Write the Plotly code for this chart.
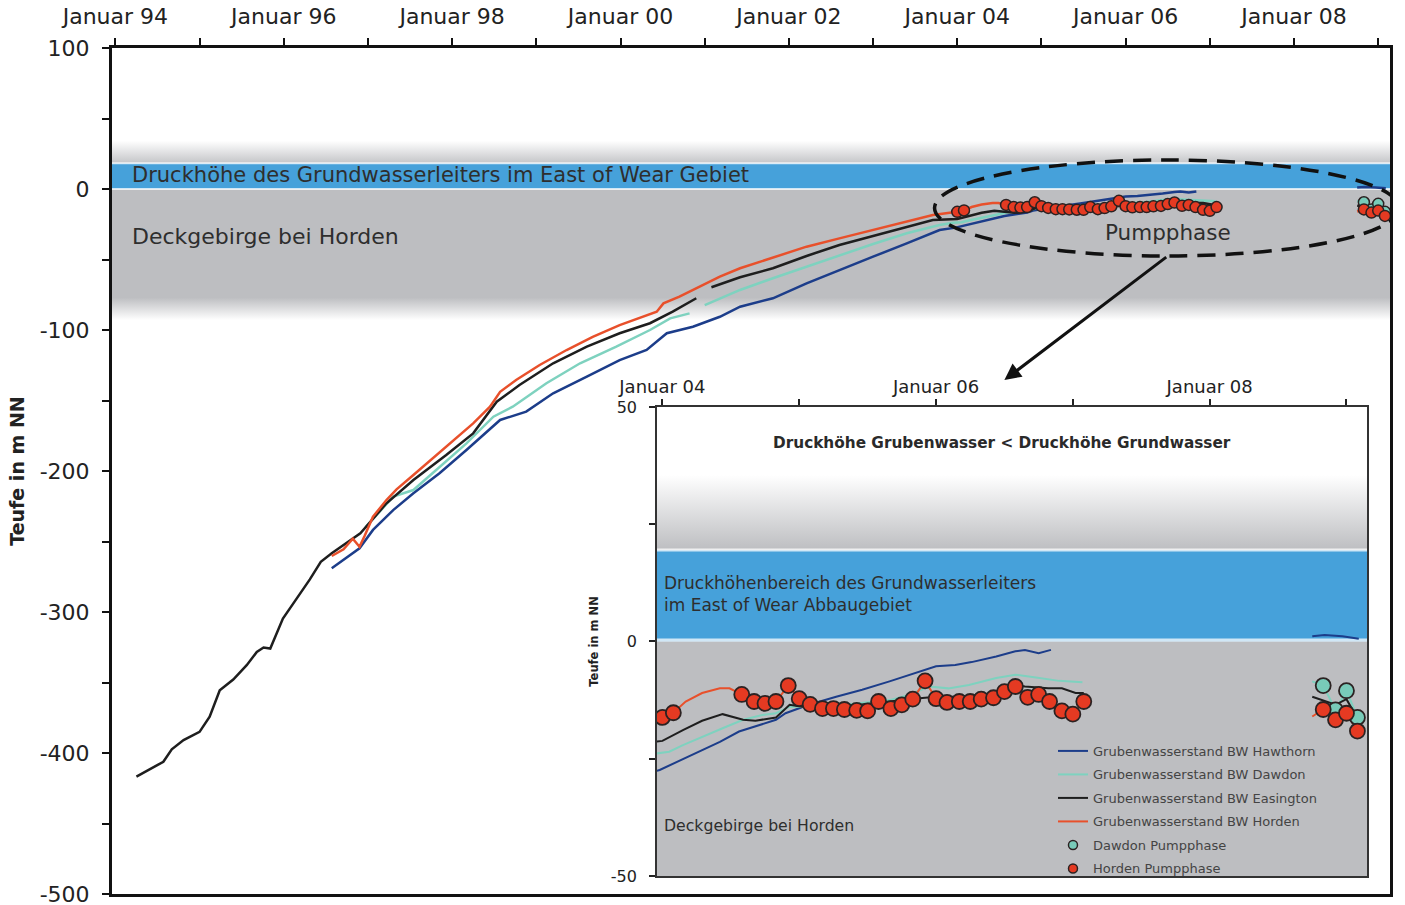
import plotly.graph_objects as go

# ------------------------------------------------------------------
# Data (decimal years, water level in m NN); None = gap in record
# ------------------------------------------------------------------
hawthorn_t = [1996.57, 1996.90, 1997.06, 1997.30, 1997.54, 1997.85, 1998.17, 1998.57, 1998.88,
              1999.20, 1999.60, 1999.99, 2000.31, 2000.55, 2000.86, 2001.18, 2001.42, 2001.81,
              2002.21, 2002.60, 2003.00, 2003.40, 2003.79, 2003.98, 2004.12, 2004.27, 2004.42,
              2004.56, 2004.71, 2004.83, 2004.90, 2005.07, 2005.27, 2005.46, 2005.66, 2005.85,
              2006.00, 2006.14, 2006.26, 2006.44, 2006.58, 2006.65, 2006.75, 2006.84, None,
              2008.75, 2008.84, 2008.97, 2009.09]
hawthorn_d = [-269.0, -254.8, -241.8, -227.7, -215.8, -201.6, -185.1, -163.8, -157.9,
              -144.9, -133.1, -121.3, -114.2, -102.3, -97.7, -90.6, -83.5, -77.5,
              -66.9, -57.4, -48.0, -38.5, -29.1, -27.4, -25.5, -23.5, -21.4,
              -19.2, -17.8, -16.7, -15.3, -13.5, -11.8, -10.3, -8.5, -6.8,
              -5.3, -5.0, -4.4, -3.2, -2.1, -1.8, -2.5, -1.8, None,
              1.1, 1.4, 1.1, 0.6]

dawdon_t = [1996.97, 1997.30, 1997.54, 1997.85, 1998.17, 1998.49, 1998.72, 1999.12, 1999.52,
            1999.95, 2000.35, 2000.59, 2000.82, None, 2001.00, 2001.42, 2001.81, 2002.21,
            2002.60, 2003.00, 2003.40, 2003.79, 2003.95, 2004.05, 2004.15, 2004.29, 2004.44,
            2004.59, 2004.73, 2004.83, 2004.93, 2005.02, 2005.20, 2005.40, 2005.66, 2005.80,
            2005.95, 2006.09, 2006.24, 2006.44, 2006.58, 2006.73, 2006.90, 2007.07, None,
            2008.75, 2008.83, 2008.92, 2009.00, 2009.08]
dawdon_d = [-240.0, -218.2, -213.5, -197.0, -180.4, -161.5, -154.4, -137.8, -123.6,
            -111.8, -100.0, -91.7, -88.2, None, -82.3, -71.6, -63.3, -55.1,
            -46.8, -39.0, -31.4, -25.5, -23.9, -23.5, -22.1, -20.3, -18.5,
            -16.7, -15.7, -15.3, -13.9, -13.9, -13.8, -13.3, -12.5, -11.4,
            -9.6, -10.0, -9.3, -7.8, -7.1, -7.7, -8.4, -8.7, None,
            -8.5, -9.4, -14.6, -10.5, -16.2]

easington_t = [1994.25, 1994.41, 1994.57, 1994.67, 1994.81, 1995.00, 1995.12, 1995.24, 1995.40,
               1995.56, 1995.68, 1995.76, 1995.84, 1995.99, 1996.15, 1996.31, 1996.44, 1996.57,
               1996.91, 1997.22, 1997.54, 1997.93, 1998.25, 1998.53, 1998.80, 1999.20, 1999.60,
               1999.99, 2000.35, 2000.62, 2000.90, None, 2001.08, 2001.42, 2001.81, 2002.21,
               2002.60, 2003.00, 2003.40, 2003.71, 2004.00, 2004.15, 2004.29, 2004.44, 2004.59,
               2004.68, 2004.83, 2004.93, 2005.02, 2005.20, 2005.40, 2005.60, 2005.80, 2006.00,
               2006.19, 2006.34, 2006.48, 2006.58, 2006.65, 2006.82, 2006.92, 2007.02, 2007.08,
               None, 2008.75, 2008.92, 2009.00, 2009.08]
easington_d = [-416.8, -411.6, -406.2, -397.4, -390.8, -385.0, -374.3, -355.5, -347.9,
               -337.7, -328.3, -325.2, -325.9, -304.6, -290.4, -276.9, -264.4, -258.4,
               -244.2, -222.9, -206.4, -188.7, -173.3, -150.9, -139.0, -123.6, -111.8,
               -102.3, -95.2, -87.0, -77.5, None, -69.7, -62.6, -56.2, -47.5,
               -39.7, -33.3, -26.7, -22.0, -21.2, -18.9, -16.9, -15.5, -16.7,
               -16.9, -16.2, -13.5, -13.9, -13.8, -13.6, -13.0, -12.3, -11.8,
               -11.8, -11.3, -10.7, -9.3, -9.6, -10.0, -10.0, -11.0, -11.0,
               None, -11.8, -13.5, -12.3, -16.4]

horden_t = [1996.57, 1996.71, 1996.82, 1996.90, 1996.96, 1997.06, 1997.22, 1997.34, 1997.54,
            1997.77, 1998.01, 1998.25, 1998.45, 1998.57, 1998.76, 1999.04, 1999.36, 1999.67,
            1999.99, 2000.27, 2000.43, 2000.51, 2000.70, 2000.94, 2001.18, 2001.42, 2001.81,
            2002.21, 2002.60, 2003.00, 2003.40, 2003.71, 2004.00, 2004.08, 2004.17, 2004.29,
            2004.42, 2004.49,
            2004.58, 2004.67, 2004.75, 2004.83, 2004.92, 2005.00, 2005.08, 2005.17, 2005.25,
            2005.33, 2005.42, 2005.50, 2005.58, 2005.67, 2005.75, 2005.83, 2005.92, 2006.00,
            2006.08, 2006.17, 2006.25, 2006.33, 2006.42, 2006.50, 2006.58, 2006.67, 2006.75,
            2006.83, 2006.92, 2007.00, 2007.08, None,
            2008.75, 2008.83, 2008.92, 2009.00, 2009.08]
horden_d = [-260.3, -255.5, -248.0, -253.7, -246.1, -232.4, -220.6, -213.0, -202.8,
            -191.0, -179.2, -166.2, -154.4, -143.8, -135.5, -124.8, -114.2, -104.8,
            -96.5, -90.6, -87.0, -81.1, -76.4, -69.3, -62.2, -56.2, -48.4,
            -40.9, -35.0, -29.1, -23.2, -18.4, -16.2, -15.2, -12.8, -11.0,
            -10.0, -10.0,
            -11.3, -12.8, -13.2, -12.8, -9.4, -12.2, -13.4, -14.3, -14.3,
            -14.5, -14.7, -14.8, -12.8, -14.3, -13.5, -12.3, -8.4, -12.2,
            -13.0, -12.8, -12.8, -12.3, -12.0, -10.7, -9.6, -11.9, -11.3,
            -12.8, -14.8, -15.5, -12.8, None,
            -16.0, -14.5, -16.7, -15.3, -19.1]

# Pumping phases (markers)
horden_pump_t = [2004.00, 2004.08,
                 2004.58, 2004.67, 2004.75, 2004.83, 2004.92, 2005.00, 2005.08, 2005.17, 2005.25,
                 2005.33, 2005.42, 2005.50, 2005.58, 2005.67, 2005.75, 2005.83, 2005.92, 2006.00,
                 2006.08, 2006.17, 2006.25, 2006.33, 2006.42, 2006.50, 2006.58, 2006.67, 2006.75,
                 2006.83, 2006.92, 2007.00, 2007.08,
                 2008.83, 2008.92, 2009.00, 2009.08]
horden_pump_d = [-16.2, -15.2,
                 -11.3, -12.8, -13.2, -12.8, -9.4, -12.2, -13.4, -14.3, -14.3,
                 -14.5, -14.7, -14.8, -12.8, -14.3, -13.5, -12.3, -8.4, -12.2,
                 -13.0, -12.8, -12.8, -12.3, -12.0, -10.7, -9.6, -11.9, -11.3,
                 -12.8, -14.8, -15.5, -12.8,
                 -14.5, -16.7, -15.3, -19.1]
dawdon_pump_t = [2008.83, 2008.92, 2009.00, 2009.08]
dawdon_pump_d = [-9.4, -14.6, -10.5, -16.2]

# Background zones (m NN)
aquifer_top_main = 18.2     # top of groundwater head band (main chart)
aquifer_top_inset = 19.5    # top of groundwater head band (inset)
cover_bottom = -77.0        # lower limit of grey "Deckgebirge" band

# Axes
main_x_range = [1993.96, 2009.14]
main_y_range = [-500, 100]
inset_x_range = [2003.96, 2009.15]
inset_y_range = [-50, 50]
main_tick_years = [1994, 1996, 1998, 2000, 2002, 2004, 2006, 2008]
main_tick_text = ["Januar 94", "Januar 96", "Januar 98", "Januar 00",
                  "Januar 02", "Januar 04", "Januar 06", "Januar 08"]
main_y_ticks = [-500, -400, -300, -200, -100, 0, 100]
main_y_text = ["-500", "-400", "-300", "-200", "-100", "0", "100"]
inset_tick_years = [2004, 2006, 2008]
inset_tick_text = ["Januar 04", "Januar 06", "Januar 08"]
inset_y_ticks = [-50, 0, 50]
inset_y_text = ["-50", "0", "50"]

# ------------------------------------------------------------------
FONT = "DejaVu Sans"
GRAY = "#BDBEC1"
BLUE = "#46A1DA"
C_HAW = "#1C3D8A"
C_DAW = "#7ED2BF"
C_EAS = "#1E1E1E"
C_HOR = "#E8502B"
C_PUMP_RED = "#E53A22"
C_PUMP_TEAL = "#78CBB9"
TXT = "#2E2E2E"

fig = go.Figure()


def band(xr, y0, y1, xa, ya, color=None, grad=None):
    tr = go.Scatter(x=[xr[0], xr[1], xr[1], xr[0], xr[0]], y=[y0, y0, y1, y1, y0],
                    mode="lines", line=dict(width=0), fill="toself",
                    hoverinfo="skip", showlegend=False, xaxis=xa, yaxis=ya)
    if grad is not None:
        tr.update(fillgradient=dict(type="vertical",
                                    colorscale=[[0, grad[0]], [1, grad[1]]],
                                    start=y0, stop=y1))
    else:
        tr.update(fillcolor=color)
    fig.add_trace(tr)


def hline(xr, y, xa, ya, color="rgba(255,255,255,0.75)", width=2):
    fig.add_trace(go.Scatter(x=[xr[0], xr[1]], y=[y, y], mode="lines",
                             line=dict(color=color, width=width), hoverinfo="skip",
                             showlegend=False, xaxis=xa, yaxis=ya))


# ---- main chart background bands ----
band(main_x_range, aquifer_top_main, aquifer_top_main + 16, "x", "y", grad=("#C4C5C8", "#FFFFFF"))
band(main_x_range, 0, aquifer_top_main, "x", "y", color=BLUE)
band(main_x_range, cover_bottom - 0.5, 0, "x", "y", color=GRAY)
band(main_x_range, cover_bottom - 16, cover_bottom, "x", "y", grad=("#FFFFFF", GRAY))
hline(main_x_range, aquifer_top_main, "x", "y")
hline(main_x_range, 0, "x", "y")

# ---- inset background bands ----
band(inset_x_range, aquifer_top_inset, aquifer_top_inset + 16, "x2", "y2", grad=(GRAY, "#FFFFFF"))
band(inset_x_range, 0, aquifer_top_inset, "x2", "y2", color=BLUE)
band(inset_x_range, inset_y_range[0], 0, "x2", "y2", color=GRAY)
hline(inset_x_range, aquifer_top_inset, "x2", "y2", width=3)
hline(inset_x_range, 0.3, "x2", "y2", width=3)

series = [
    ("Grubenwasserstand BW Hawthorn", hawthorn_t, hawthorn_d, C_HAW),
    ("Grubenwasserstand BW Dawdon", dawdon_t, dawdon_d, C_DAW),
    ("Grubenwasserstand BW Easington", easington_t, easington_d, C_EAS),
    ("Grubenwasserstand BW Horden", horden_t, horden_d, C_HOR),
]
pumps = [
    ("Dawdon Pumpphase", dawdon_pump_t, dawdon_pump_d, C_PUMP_TEAL),
    ("Horden Pumpphase", horden_pump_t, horden_pump_d, C_PUMP_RED),
]
OUTLINE = "#2B2222"

# main chart data
for name, t, d, c in series:
    fig.add_trace(go.Scatter(x=t, y=d, mode="lines", name=name, showlegend=False,
                             line=dict(color=c, width=2.5), xaxis="x", yaxis="y"))
for name, t, d, c in pumps:
    fig.add_trace(go.Scatter(x=t, y=d, mode="markers", name=name, showlegend=False,
                             marker=dict(size=11, color=c, line=dict(color=OUTLINE, width=1.5)),
                             xaxis="x", yaxis="y"))

# inset data (line traces carry the legend)
for i, (name, t, d, c) in enumerate(series):
    fig.add_trace(go.Scatter(x=t, y=d, mode="lines", name=name, legendgroup=f"g{i}",
                             line=dict(color=c, width=2), xaxis="x2", yaxis="y2"))
for j, (name, t, d, c) in enumerate(pumps):
    fig.add_trace(go.Scatter(x=t, y=d, mode="markers", name=name, legendgroup=f"p{j}",
                             showlegend=False,
                             marker=dict(size=15, color=c, line=dict(color=OUTLINE, width=1.8)),
                             xaxis="x2", yaxis="y2"))
# small legend symbols for the pumping-phase markers
for j, (name, t, d, c) in enumerate(pumps):
    fig.add_trace(go.Scatter(x=[None], y=[None], mode="markers", name=name, legendgroup=f"p{j}",
                             marker=dict(size=9, color=c, line=dict(color=OUTLINE, width=1.5)),
                             xaxis="x2", yaxis="y2"))

# ---- annotations ----
ann = [
    dict(x=1994.17, y=9.9, xref="x", yref="y", text="Druckhöhe des Grundwasserleiters im East of Wear Gebiet",
         xanchor="left", showarrow=False, font=dict(family=FONT, size=21, color=TXT)),
    dict(x=1994.17, y=-34.0, xref="x", yref="y", text="Deckgebirge bei Horden",
         xanchor="left", showarrow=False, font=dict(family=FONT, size=22, color=TXT)),
    dict(x=2006.50, y=-31.2, xref="x", yref="y", text="Pumpphase",
         xanchor="center", showarrow=False, font=dict(family=FONT, size=21.5, color=TXT)),
    dict(x=2004.56, y=-135.5, xref="x", yref="y", ax=2006.50, ay=-47.5, axref="x", ayref="y",
         text="", showarrow=True, arrowhead=2, arrowsize=1.1, arrowwidth=3, arrowcolor="#111111"),
    dict(x=2006.48, y=42.3, xref="x2", yref="y2", text="<b>Druckhöhe Grubenwasser < Druckhöhe Grundwasser</b>",
         xanchor="center", showarrow=False, font=dict(family=FONT, size=15.3, color="#2A2A2A")),
    dict(x=2004.0, y=10.1, xref="x2", yref="y2",
         text="Druckhöhenbereich des Grundwasserleiters<br>im East of Wear Abbaugebiet",
         xanchor="left", align="left", showarrow=False, font=dict(family=FONT, size=17, color=TXT)),
    dict(x=2004.0, y=-39.3, xref="x2", yref="y2", text="Deckgebirge bei Horden",
         xanchor="left", showarrow=False, font=dict(family=FONT, size=15.7, color=TXT)),
]

shapes = [
    dict(type="circle", xref="x", yref="y", x0=2003.73, x1=2009.25, y0=-47.5, y1=20.6,
         line=dict(color="#111111", width=3.5, dash="18px,10px"), layer="above"),
]

axis_font = dict(family=FONT, size=22, color="#222222")
inset_xfont = dict(family=FONT, size=18, color="#222222")
inset_yfont = dict(family=FONT, size=16, color="#222222")

fig.update_layout(
    width=1405, height=905,
    margin=dict(l=112, r=15, t=48, b=11),
    paper_bgcolor="white", plot_bgcolor="white",
    font=dict(family=FONT, color="#222222"),
    annotations=ann, shapes=shapes,
    xaxis=dict(domain=[0, 1], anchor="y", range=main_x_range, side="top", automargin=False,
               tickmode="array", tickvals=main_tick_years, ticktext=main_tick_text,
               ticks="outside", ticklen=7, tickwidth=2, tickcolor="#111111",
               minor=dict(tickmode="linear", tick0=1994, dtick=1, ticks="outside",
                          ticklen=7, tickwidth=2, tickcolor="#111111"),
               tickfont=axis_font, ticklabelstandoff=5, ticklabeloverflow="allow",
               showline=True, linewidth=3, linecolor="#111111", mirror=True,
               showgrid=False, zeroline=False),
    yaxis=dict(domain=[0, 1], anchor="x", range=main_y_range, automargin=False,
               tickmode="array", tickvals=main_y_ticks, ticktext=main_y_text,
               ticks="outside", ticklen=7, tickwidth=2, tickcolor="#111111",
               minor=dict(tickmode="linear", tick0=0, dtick=50, ticks="outside",
                          ticklen=7, tickwidth=2, tickcolor="#111111"),
               tickfont=axis_font, ticklabelstandoff=8, ticklabeloverflow="allow",
               title=dict(text="<b>Teufe in m NN</b>", font=dict(family=FONT, size=19, color="#222222"),
                          standoff=11),
               showline=True, linewidth=3, linecolor="#111111", mirror=True,
               showgrid=False, zeroline=False),
    xaxis2=dict(domain=[0.4264, 0.982], anchor="y2", range=inset_x_range, side="top", automargin=False,
                tickmode="array", tickvals=inset_tick_years, ticktext=inset_tick_text,
                ticks="outside", ticklen=6, tickwidth=1.5, tickcolor="#222222",
                minor=dict(tickmode="linear", tick0=2004, dtick=1, ticks="outside",
                           ticklen=6, tickwidth=1.5, tickcolor="#222222"),
                tickfont=inset_xfont, ticklabelstandoff=-1, ticklabeloverflow="allow",
                showline=True, linewidth=1.5, linecolor="#333333", mirror=True,
                showgrid=False, zeroline=False),
    yaxis2=dict(domain=[0.0213, 0.5757], anchor="x2", range=inset_y_range, automargin=False,
                tickmode="array", tickvals=inset_y_ticks, ticktext=inset_y_text,
                ticks="outside", ticklen=6, tickwidth=1.5, tickcolor="#222222",
                minor=dict(tickmode="linear", tick0=0, dtick=25, ticks="outside",
                           ticklen=6, tickwidth=1.5, tickcolor="#222222"),
                tickfont=inset_yfont, ticklabelstandoff=9, ticklabeloverflow="allow",
                title=dict(text="<b>Teufe in m NN</b>", font=dict(family=FONT, size=11.5, color="#222222"),
                           standoff=10),
                showline=True, linewidth=1.5, linecolor="#333333", mirror=True,
                showgrid=False, zeroline=False),
    legend=dict(x=0.7363, y=0.1868, xanchor="left", yanchor="top", xref="paper", yref="paper",
                bgcolor="rgba(0,0,0,0)", borderwidth=0, traceorder="grouped", tracegroupgap=3.6,
                font=dict(family=FONT, size=13, color="#444444")),
)

# remove the default 8px page margin so the 1405x905 figure fills the window exactly
fig.write_html("out.html", config={"displayModeBar": False},
               post_script="document.body.style.margin='0';")
